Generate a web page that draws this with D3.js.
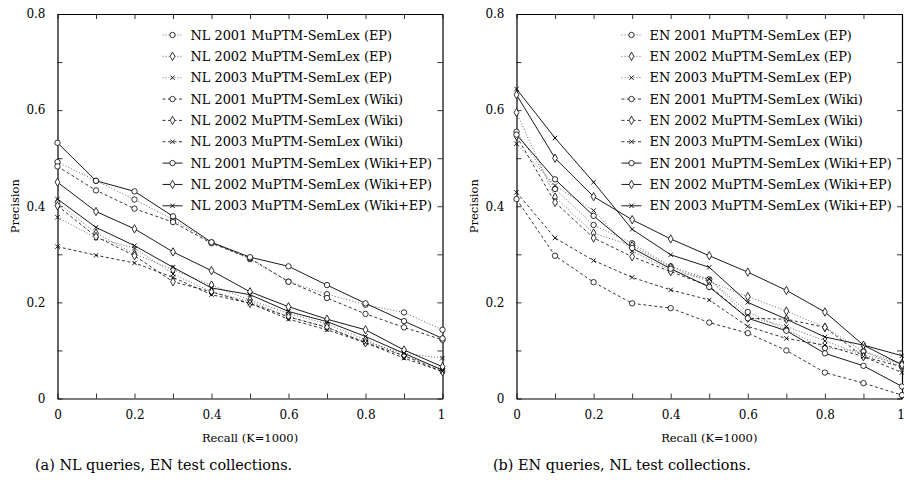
<!DOCTYPE html>
<html><head><meta charset="utf-8">
<script src="https://cdn.jsdelivr.net/npm/d3@7"></script>
<style>
body{margin:0;background:#fff}
svg{display:block}
</style>
</head><body>
<svg id="chart" width="904" height="480"></svg>
<script>
// ---------- data ----------
const recall = [0, 0.1, 0.2, 0.3, 0.4, 0.5, 0.6, 0.7, 0.8, 0.9, 1];
const xTickLabels = [0, 0.2, 0.4, 0.6, 0.8, 1];
const yTickLabels = [0, 0.2, 0.4, 0.6, 0.8];
const minorTicksX = [0, 0.1, 0.2, 0.3, 0.4, 0.5, 0.6, 0.7, 0.8, 0.9, 1];
const minorTicksY = [0, 0.1, 0.2, 0.3, 0.4, 0.5, 0.6, 0.7, 0.8];
const years = ["2001", "2002", "2003"];
const resources = ["EP", "Wiki", "Wiki+EP"];

// (a) NL queries
const nl2001EP     = [0.492, 0.453, 0.414, 0.372, 0.325, 0.290, 0.243, 0.217, 0.195, 0.179, 0.143];
const nl2002EP     = [0.408, 0.344, 0.301, 0.268, 0.236, 0.205, 0.177, 0.155, 0.122, 0.089, 0.062];
const nl2003EP     = [0.377, 0.334, 0.313, 0.259, 0.222, 0.202, 0.170, 0.148, 0.118, 0.094, 0.084];
const nl2001Wiki   = [0.483, 0.433, 0.395, 0.367, 0.323, 0.292, 0.243, 0.209, 0.176, 0.148, 0.122];
const nl2002Wiki   = [0.401, 0.337, 0.297, 0.243, 0.222, 0.198, 0.170, 0.148, 0.116, 0.089, 0.056];
const nl2003Wiki   = [0.316, 0.298, 0.282, 0.252, 0.216, 0.198, 0.165, 0.143, 0.116, 0.084, 0.056];
const nl2001WikiEP = [0.532, 0.453, 0.431, 0.379, 0.325, 0.294, 0.275, 0.236, 0.198, 0.161, 0.125];
const nl2002WikiEP = [0.450, 0.389, 0.353, 0.305, 0.266, 0.222, 0.191, 0.165, 0.143, 0.101, 0.066];
const nl2003WikiEP = [0.415, 0.356, 0.318, 0.273, 0.230, 0.216, 0.181, 0.160, 0.129, 0.094, 0.059];

// (b) EN queries
const en2001EP     = [0.555, 0.436, 0.361, 0.323, 0.275, 0.248, 0.180, 0.143, 0.105, 0.098, 0.066];
const en2002EP     = [0.595, 0.419, 0.344, 0.318, 0.273, 0.243, 0.212, 0.182, 0.148, 0.098, 0.073];
const en2003EP     = [0.530, 0.443, 0.391, 0.307, 0.266, 0.248, 0.170, 0.150, 0.120, 0.090, 0.073];
const en2001Wiki   = [0.415, 0.297, 0.242, 0.198, 0.188, 0.158, 0.136, 0.100, 0.054, 0.032, 0.007];
const en2002Wiki   = [0.546, 0.408, 0.334, 0.295, 0.264, 0.234, 0.167, 0.165, 0.148, 0.087, 0.066];
const en2003Wiki   = [0.429, 0.334, 0.287, 0.252, 0.226, 0.205, 0.150, 0.125, 0.111, 0.087, 0.054];
const en2001WikiEP = [0.549, 0.456, 0.380, 0.313, 0.270, 0.232, 0.167, 0.141, 0.094, 0.068, 0.025];
const en2002WikiEP = [0.632, 0.500, 0.420, 0.372, 0.332, 0.297, 0.263, 0.225, 0.180, 0.111, 0.070];
const en2003WikiEP = [0.644, 0.542, 0.450, 0.352, 0.299, 0.273, 0.200, 0.165, 0.128, 0.111, 0.089];

const nlSeries = [nl2001EP, nl2002EP, nl2003EP, nl2001Wiki, nl2002Wiki, nl2003Wiki, nl2001WikiEP, nl2002WikiEP, nl2003WikiEP];
const enSeries = [en2001EP, en2002EP, en2003EP, en2001Wiki, en2002Wiki, en2003Wiki, en2001WikiEP, en2002WikiEP, en2003WikiEP];

// ---------- styles ----------
const FONT = "'DejaVu Serif', 'Liberation Serif', serif";
const dashStyle = {
  "EP":      {dash: "1,2", color: "#444", width: 0.8},
  "Wiki":    {dash: "3,2.5", color: "#000", width: 0.8},
  "Wiki+EP": {dash: null, color: "#000", width: 0.9}
};
function marker(sel, year) {
  if (year === "2001") {
    sel.append("circle").attr("r", 2.7).attr("fill", "#fff").attr("stroke", "#000").attr("stroke-width", 0.8);
  } else if (year === "2002") {
    sel.append("path").attr("d", "M0,-4.2L2.4,0L0,4.2L-2.4,0Z").attr("fill", "#fff").attr("stroke", "#000").attr("stroke-width", 0.8);
  } else {
    sel.append("path").attr("d", "M-2.2,-2.2L2.2,2.2M-2.2,2.2L2.2,-2.2").attr("fill", "none").attr("stroke", "#000").attr("stroke-width", 0.9);
  }
}
function txt(sel, size) {
  return sel.style("font-family", FONT).style("font-size", size + "px").attr("fill", "#000");
}

const svg = d3.select("#chart");

function panel(opts) {
  const x = d3.scaleLinear().domain([0, 1]).range([opts.x0, opts.x1]);
  const y = d3.scaleLinear().domain([0, 0.8]).range([398.5, 14]);
  const g = svg.append("g");
  const fmt = d => xTickLabels.includes(Math.round(d * 10) / 10) ? d3.format("~g")(d) : "";
  const fmtY = d => yTickLabels.includes(Math.round(d * 10) / 10) ? d3.format("~g")(d) : "";

  g.append("g").attr("transform", `translate(0,${y(0)})`)
    .call(d3.axisBottom(x).tickValues(minorTicksX).tickSize(-5).tickSizeOuter(0).tickPadding(12).tickFormat(fmt));
  g.append("g").attr("transform", `translate(0,${y(0.8)})`)
    .call(d3.axisTop(x).tickValues(minorTicksX).tickSize(-5).tickSizeOuter(0).tickFormat(""));
  g.append("g").attr("transform", `translate(${x(0)},0)`)
    .call(d3.axisLeft(y).tickValues(minorTicksY).tickSize(-5).tickSizeOuter(0).tickPadding(12).tickFormat(fmtY));
  g.append("g").attr("transform", `translate(${x(1)},0)`)
    .call(d3.axisRight(y).tickValues(minorTicksY).tickSize(-5).tickSizeOuter(0).tickFormat(""));
  g.selectAll(".domain").attr("stroke", "#000").attr("stroke-width", 1.2);
  g.selectAll(".tick line").attr("stroke", "#000").attr("stroke-width", 0.8);
  txt(g.selectAll(".tick text"), 12);
  g.selectAll(".tick text").filter(d => d === 1).attr("dx", "-1.5");

  // axis titles
  txt(g.append("text").attr("x", (opts.x0 + opts.x1) / 2).attr("y", 442).attr("text-anchor", "middle"), 11.5)
    .text("Recall (K=1000)");
  txt(g.append("text").attr("transform", `translate(${opts.x0 - 39},${y(0.4)}) rotate(-90)`).attr("text-anchor", "middle"), 11.5)
    .text("Precision");

  // series
  const line = d3.line().x((d, i) => x(recall[i])).y(d => y(d));
  opts.series.forEach((vals, k) => {
    const res = resources[Math.floor(k / 3)];
    const st = dashStyle[res];
    g.append("path").datum(vals).attr("d", line).attr("fill", "none")
      .attr("stroke", st.color).attr("stroke-width", st.width)
      .attr("stroke-dasharray", st.dash);
  });
  opts.series.forEach((vals, k) => {
    const yr = years[k % 3];
    vals.forEach((v, i) => {
      marker(g.append("g").attr("transform", `translate(${x(recall[i])},${y(v)})`), yr);
    });
  });

  // legend
  const lg = g.append("g");
  opts.series.forEach((vals, k) => {
    const yr = years[k % 3], res = resources[Math.floor(k / 3)];
    const st = dashStyle[res];
    const cy = 35 + k * 21.35;
    const lx = opts.x0 + 105;
    lg.append("line").attr("x1", lx).attr("x2", lx + 20).attr("y1", cy).attr("y2", cy)
      .attr("stroke", st.color).attr("stroke-width", st.width).attr("stroke-dasharray", st.dash);
    marker(lg.append("g").attr("transform", `translate(${lx + 10},${cy})`), yr);
    txt(lg.append("text").attr("x", lx + 28).attr("y", cy + 4.5), 12.9)
      .text(`${opts.lang} ${yr} MuPTM-SemLex (${res})`);
  });

  // caption
  txt(g.append("text").attr("x", opts.capX).attr("y", 470), 14.4).text(opts.caption);
}

panel({x0: 57.5, x1: 442.5, lang: "NL", series: nlSeries, caption: "(a) NL queries, EN test collections.", capX: 35});
panel({x0: 516.5, x1: 902, lang: "EN", series: enSeries, caption: "(b) EN queries, NL test collections.", capX: 493});
</script>
</body></html>
